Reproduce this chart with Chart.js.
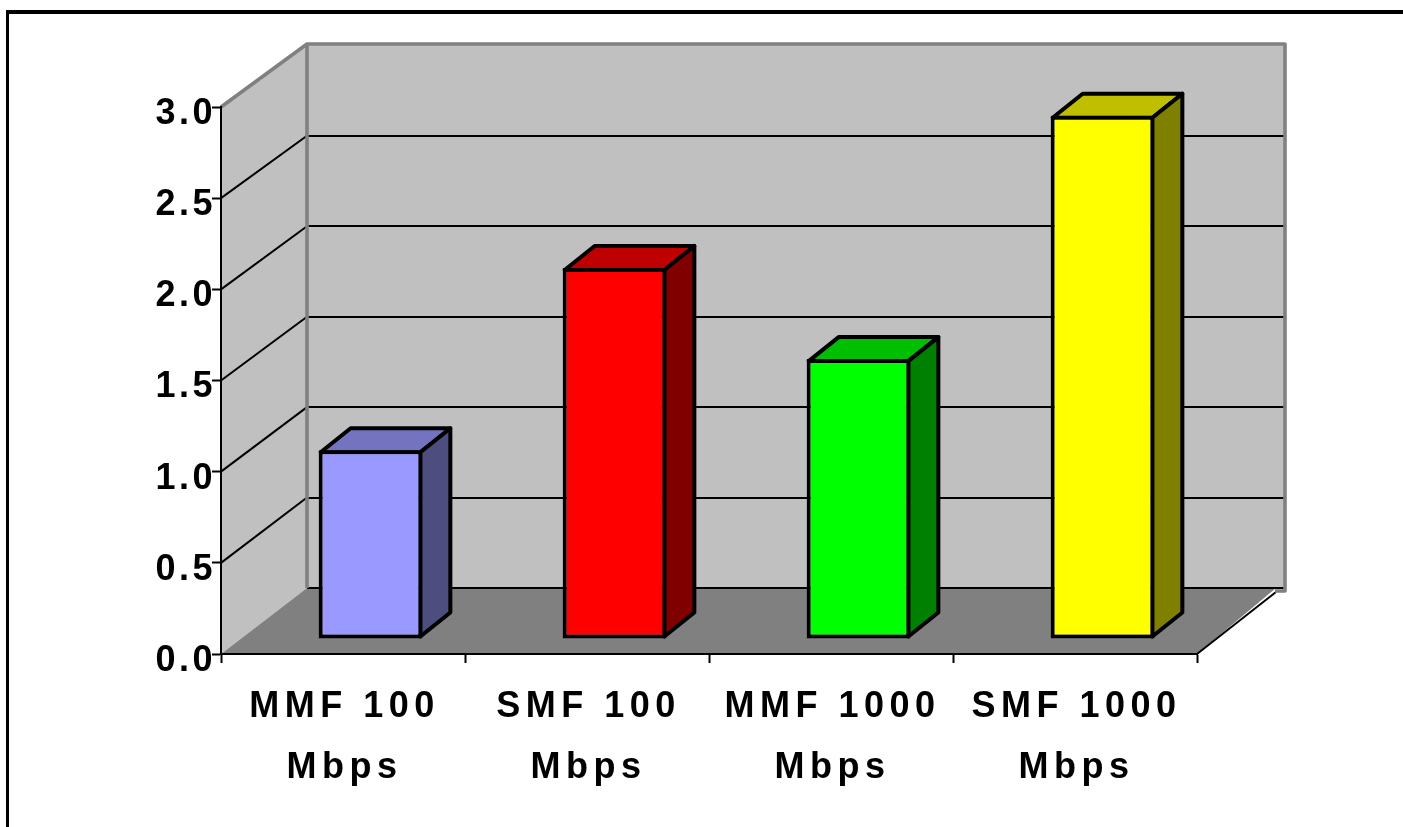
<!DOCTYPE html>
<html>
<head>
<meta charset="utf-8">
<style>
  html, body { margin: 0; padding: 0; background: #fff; overflow: hidden; }
  canvas { display: block; }
</style>
<script src="https://cdn.jsdelivr.net/npm/chart.js@4/dist/chart.umd.min.js"></script>
</head>
<body>
<canvas id="chart" width="1403" height="827"></canvas>
<script>
const categories = [["MMF 100", "Mbps"], ["SMF 100", "Mbps"], ["MMF 1000", "Mbps"], ["SMF 1000", "Mbps"]];
const values = [1.035, 2.035, 1.535, 2.87];
const faceColors = ["#9999ff", "#ff0000", "#00ff00", "#ffff00"];
const sideColors = ["#4d4d80", "#800000", "#008000", "#808000"];
const topColors = ["#7373bf", "#bf0000", "#00bf00", "#bfbf00"];
const gridValues = [0.5, 1.0, 1.5, 2.0, 2.5];

const FONT_FAMILY = '"Liberation Sans", Arial, sans-serif';
const WALL = "#c0c0c0", WALL_EDGE = "#808080", FLOOR = "#808080", INK = "#000000";

// Depth of the box and of the bars inside it, in pixels.
const BOX_DX = 86;
const BAR_SHIFT = { x: 27.5, y: -15 };
const BAR_DEPTH = { x: 30, y: -24 };

// Back wall position for a value: the back plane is slightly smaller than the front one.
function backY(yScale, v) {
  const zero = yScale.getPixelForValue(0);
  return 588 + (yScale.getPixelForValue(v) - zero) * 0.992;
}

function poly(ctx, pts) {
  ctx.beginPath();
  pts.forEach((p, i) => i ? ctx.lineTo(p[0], p[1]) : ctx.moveTo(p[0], p[1]));
  ctx.closePath();
}

// Walls, floor and gridlines of the box, plus the page frame.
const boxPlugin = {
  id: "box3d",
  beforeDraw(chart) {
    const { ctx, scales: { x: xs, y: ys } } = chart;
    const L = xs.left, R = xs.right, T = ys.getPixelForValue(3), B = ys.getPixelForValue(0);
    const bL = L + BOX_DX, bR = R + 88, bT = 44, bB = 588;
    ctx.save();

    ctx.fillStyle = INK;
    ctx.fillRect(6, 10, 1397, 4);
    ctx.fillRect(6, 10, 3, 817);

    ctx.fillStyle = WALL;
    poly(ctx, [[L, T], [bL, bT], [bL, bB], [L, B]]); ctx.fill();
    ctx.fillRect(bL, bT, bR - bL, bB - bT);

    ctx.fillStyle = FLOOR;
    poly(ctx, [[L, B], [bL, bB], [bR - 9, bB], [R, B]]); ctx.fill();

    ctx.strokeStyle = INK;
    ctx.lineWidth = 2;
    ctx.beginPath();
    gridValues.forEach(v => {
      const fy = ys.getPixelForValue(v), by = backY(ys, v);
      ctx.moveTo(L, fy); ctx.lineTo(bL, by);
      ctx.moveTo(bL, Math.round(by)); ctx.lineTo(bR, Math.round(by));
    });
    ctx.moveTo(bL, bB); ctx.lineTo(bR, bB);
    ctx.moveTo(R, B); ctx.lineTo(R + 79, bB + 4);
    ctx.stroke();

    ctx.strokeStyle = WALL_EDGE;
    ctx.lineWidth = 3.6;
    ctx.lineJoin = "round";
    ctx.beginPath();
    ctx.moveTo(L, T); ctx.lineTo(bL, bT); ctx.lineTo(bR, bT); ctx.lineTo(bR, bB + 3); ctx.lineTo(R + 78, bB + 3);
    ctx.moveTo(bL, bT); ctx.lineTo(bL, bB);
    ctx.stroke();
    ctx.restore();
  },
  // Each bar's top and side are drawn first; the front face goes on top, shifted into the box.
  beforeDatasetDraw(chart, args) {
    const { ctx } = chart;
    const meta = chart.getDatasetMeta(args.index);
    ctx.save();
    ctx.strokeStyle = INK;
    ctx.lineWidth = 4;
    ctx.lineJoin = "round";
    meta.data.forEach((bar, i) => {
      const { x, y, base, width } = bar.getProps(["x", "y", "base", "width"], true);
      const x1 = x - width / 2 + 2 + BAR_SHIFT.x, x2 = x + width / 2 - 2 + BAR_SHIFT.x;
      const t = y + 2 + BAR_SHIFT.y, b = base - 2 + BAR_SHIFT.y;
      const dx = BAR_DEPTH.x, dy = BAR_DEPTH.y;
      ctx.fillStyle = topColors[i];
      poly(ctx, [[x1, t], [x1 + dx, t + dy], [x2 + dx, t + dy], [x2, t]]);
      ctx.fill(); ctx.stroke();
      ctx.fillStyle = sideColors[i];
      poly(ctx, [[x2, t], [x2 + dx, t + dy], [x2 + dx, b + dy], [x2, b]]);
      ctx.fill(); ctx.stroke();
    });
    ctx.restore();
    ctx.save();
    ctx.translate(BAR_SHIFT.x, BAR_SHIFT.y);
  },
  afterDatasetDraw(chart) {
    chart.ctx.restore();
  },
  // Tick labels are letter-spaced and nudged off their ticks.
  afterLayout(chart) {
    const spaced = (scale, spacing, ox, oy) => {
      const draw = scale.constructor.prototype.drawLabels;
      scale.drawLabels = function (area) {
        const c = this.ctx;
        c.save();
        c.letterSpacing = spacing;
        c.translate(ox, oy);
        draw.call(this, area);
        c.restore();
      };
    };
    spaced(chart.scales.x, "5.5px", 1.5, 0);
    spaced(chart.scales.y, "3.5px", 1, 7);
  }
};

new Chart(document.getElementById("chart"), {
  type: "bar",
  plugins: [boxPlugin],
  data: {
    labels: categories,
    datasets: [{
      data: values,
      backgroundColor: faceColors,
      borderColor: INK,
      borderWidth: 4,
      borderSkipped: false,
      categoryPercentage: 1,
      barPercentage: 0.425,
      clip: false
    }]
  },
  options: {
    responsive: false,
    animation: false,
    events: [],
    layout: { padding: { left: 151, right: 206, top: 107, bottom: 0 } },
    plugins: { legend: { display: false }, title: { display: false }, tooltip: { enabled: false } },
    scales: {
      x: {
        afterFit(s) { s.height = 173; },
        grid: { display: true, drawOnChartArea: false, drawTicks: true, tickLength: 9, tickWidth: 2, tickColor: INK, offset: true },
        border: { display: true, color: INK, width: 2 },
        ticks: {
          autoSkip: false, maxRotation: 0, minRotation: 0, padding: 14, color: INK,
          font: { family: FONT_FAMILY, size: 36, weight: "bold", lineHeight: 1.69 }
        }
      },
      y: {
        min: 0,
        max: 3,
        afterFit(s) { s.width = 70; },
        grid: { display: true, drawOnChartArea: false, drawTicks: true, tickLength: 9, tickWidth: 2, tickColor: INK },
        border: { display: true, color: INK, width: 2 },
        ticks: {
          stepSize: 0.5, padding: -3, color: INK,
          font: { family: FONT_FAMILY, size: 36, weight: "bold" },
          callback: v => v.toFixed(1)
        }
      }
    }
  }
});
</script>
</body>
</html>
